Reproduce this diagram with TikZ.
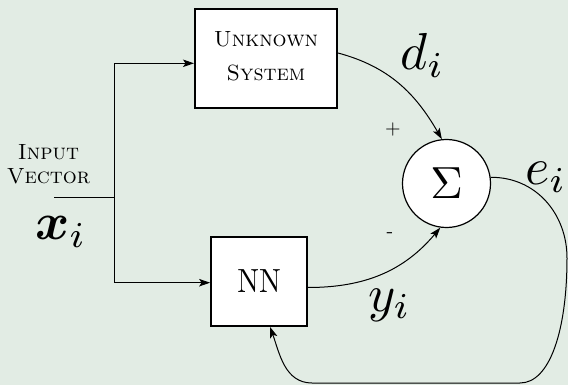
\RequirePackage{fix-cm}
\documentclass[tikz,border=0pt]{standalone}
\usepackage{amsmath}
\usetikzlibrary{arrows.meta}
\definecolor{bgc}{RGB}{226,236,228}
\begin{document}
\begin{tikzpicture}[x=1pt,y=-1pt,
  blk/.style={draw, fill=white, inner sep=0pt},
  conn/.style={line width=1pt, draw=black},
  arr/.style={conn, -{Stealth[length=11pt,width=7.5pt,inset=2.5pt]}},
  lbl/.style={inner sep=0pt},
  mathlbl/.style={lbl, anchor=base west},
]
\fill[bgc] (0,0) rectangle (568,385);
\useasboundingbox (0,0) rectangle (568,385);

\node[blk, line width=2pt, minimum width=142pt, minimum height=99pt] (us) at (266,58.5)
  {\scalebox{2.2}{\begin{tabular}{@{}c@{}}\textsc{Unknown}\\[3.5pt]\textsc{System}\end{tabular}}};
\node[blk, line width=1.8pt, minimum width=96pt, minimum height=89pt] (nn) at (259,281.5)
  {\scalebox{2.9}[3.35]{NN}};
\node[draw, circle, fill=white, line width=1.2pt, minimum size=88pt, inner sep=0pt] (sum) at (446.5,183.5)
  {\scalebox{4.5}{$\Sigma$}};

\node[lbl] (inlbl) at (48.5,166.5)
  {\scalebox{2.2}{\begin{tabular}{@{}c@{}}\textsc{Input}\\[-1pt]\textsc{Vector}\end{tabular}}};

\coordinate (in) at (54,198);
\coordinate (split) at (114.7,198);
\draw[conn] (in) -- (split);
\draw[arr] (split) |- ([yshift=-4.8pt]us.west);
\draw[arr] (split) |- ([yshift=-1.2pt]nn.west);

\draw[arr] ([yshift=5.5pt]us.east) to[out=-15,in=120] (sum.96);
\draw[arr] ([yshift=-6pt]nn.east) to[out=0,in=-130] (sum.-98);

\coordinate (rt) at (567,258);
\coordinate (br) at (520,383);
\coordinate (bl) at (312,383);
\draw[arr] (sum.8) .. controls (536,177) and (567,214) .. (rt)
  .. controls (567,330) and (550,383) .. (br) -- (bl)
  to[out=180,in=-70] ([xshift=11pt]nn.south);

\node[mathlbl] (d) at (400,70) {\scalebox{5.2}{$d_i$}};
\node[mathlbl] (e) at (525,185) {\scalebox{5.2}{$e_i$}};
\node[mathlbl] (y) at (368,311) {\scalebox{5.2}{$y_i$}};
\node[mathlbl] (x) at (35,240) {\scalebox{5.2}{$\boldsymbol{x}_i$}};
\node[lbl] (plus) at (393,130) {\scalebox{2}{+}};
\node[lbl] (minus) at (390,235) {\scalebox{2}{-}};
\end{tikzpicture}
\end{document}
